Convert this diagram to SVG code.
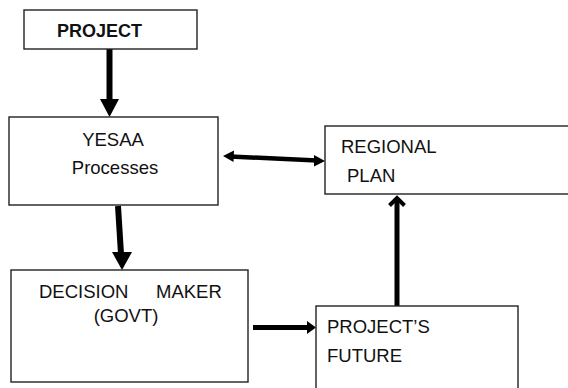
<svg xmlns="http://www.w3.org/2000/svg" width="568" height="388" viewBox="0 0 568 388">
<style>
.box{fill:#fff;stroke:#222;stroke-width:1.4}
.t{font-family:"Liberation Sans",Arial,sans-serif;font-size:18.5px;fill:#111}
.b{font-weight:bold;font-size:18px}
.ln{stroke:#000;fill:none}
.hd{fill:#000}
</style>
<rect width="568" height="388" fill="#fff"/>
<g id="connectors">
<line class="ln" x1="109.5" y1="49" x2="109.5" y2="101" stroke-width="6"/>
<polygon class="hd" points="100,99 119,99 109.5,117"/>
<line class="ln" x1="118" y1="206" x2="121" y2="254" stroke-width="6"/>
<polygon class="hd" points="112,252 132,252 122,270"/>
<line class="ln" x1="230" y1="156.5" x2="317" y2="160.5" stroke-width="4.5"/>
<polygon class="hd" points="223,156 234,150.5 233.5,162"/>
<polygon class="hd" points="325,161 314,155 314,166.5"/>
<line class="ln" x1="253" y1="327.5" x2="309" y2="327.5" stroke-width="5"/>
<polygon class="hd" points="316,327.5 307,321 307,334"/>
<line class="ln" x1="397" y1="306" x2="397" y2="199" stroke-width="5"/>
<polyline class="ln" points="389.5,205.5 397,198 404.5,205.5" stroke-width="4"/>
</g>
<g id="project">
<rect class="box" x="24" y="10" width="173" height="39"/>
<text class="t b" x="57" y="37">PROJECT</text>
</g>
<g id="yesaa">
<rect class="box" x="9" y="117" width="209" height="88"/>
<text class="t" x="113" y="146" text-anchor="middle">YESAA</text>
<text class="t" x="115" y="174" text-anchor="middle">Processes</text>
</g>
<g id="regional">
<rect class="box" x="325" y="126" width="250" height="68"/>
<text class="t" x="341" y="153">REGIONAL</text>
<text class="t" x="347" y="182">PLAN</text>
</g>
<g id="decision">
<rect class="box" x="11" y="270" width="237" height="112"/>
<text class="t" y="298"><tspan x="39">DECISION</tspan><tspan x="156">MAKER</tspan></text>
<text class="t" x="126" y="322" text-anchor="middle">(GOVT)</text>
</g>
<g id="future">
<rect class="box" x="316" y="306" width="202" height="90"/>
<text class="t" x="327" y="333">PROJECT’S</text>
<text class="t" x="327" y="362">FUTURE</text>
</g>
</svg>
